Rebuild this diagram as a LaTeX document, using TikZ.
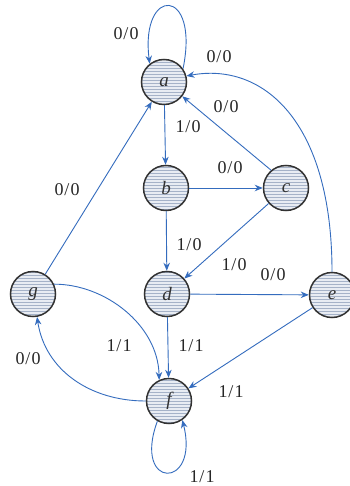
\documentclass[tikz,border=0pt]{standalone}
\usepackage{fontspec}
\setmainfont{Liberation Serif}
\usetikzlibrary{arrows.meta,patterns}
\definecolor{edgeblue}{RGB}{52,108,190}
\definecolor{nodefill}{RGB}{232,236,243}
\definecolor{hatch}{RGB}{165,178,200}
\definecolor{ringgray}{RGB}{50,50,50}
\newcommand{\tr}[2]{#1\kern1pt/\kern1pt#2}
\begin{document}
\begin{tikzpicture}[x=1pt,y=-1pt,
  state/.style={circle, draw=ringgray, line width=1.5pt, minimum size=45pt, inner sep=0pt,
    preaction={fill=nodefill}, pattern=horizontal lines, pattern color=hatch,
    font=\fontsize{19}{19}\selectfont\itshape, text=ringgray},
  edge/.style={draw=edgeblue, line width=0.9pt, -{Stealth[length=8pt,width=6.5pt]}},
  lbl/.style={font=\fontsize{18}{18}\selectfont, inner sep=0pt, text=black!85}]
\useasboundingbox (0,0) rectangle (349,486);
\fill[white] (0,0) rectangle (349,486);
% states
\node[state] (a) at (164,82) {a};
\node[state] (b) at (166,188) {b};
\node[state] (c) at (286,188) {c};
\node[state] (d) at (167,294) {d};
\node[state] (e) at (332,295) {e};
\node[state] (g) at (33,294) {g};
\node[state] (f) at (169,401) {f};
% transitions
\draw[edge] (a.35) .. controls (200,-14) and (140,-14) .. (a.128);
\draw[edge] (e.north) .. controls (332,120) and (262,62) .. (a.15);
\draw[edge] (c.130) -- (a.-38);
\draw[edge] (a) -- (b);
\draw[edge] (b) -- (c);
\draw[edge] (b) -- (d);
\draw[edge] (c) -- (d);
\draw[edge] (d) -- (e);
\draw[edge] (d) -- (f);
\draw[edge] (e) -- (f);
\draw[edge] (g) -- (a);
\draw[edge] (g.25) .. controls (105,284) and (158,325) .. (f.115);
\draw[edge] (f.180) .. controls (90,401) and (45,370) .. (g.-80);
\draw[edge] (f.240) .. controls (132,490) and (200,490) .. (f.-55);
% labels
\node[lbl] (laa) at (126,34) {\tr{0}{0}};
\node[lbl] (lea) at (219,57) {\tr{0}{0}};
\node[lbl] (lca) at (226,107) {\tr{0}{0}};
\node[lbl] (lab) at (188,127) {\tr{1}{0}};
\node[lbl] (lbc) at (230,168) {\tr{0}{0}};
\node[lbl] (lbd) at (189,245) {\tr{1}{0}};
\node[lbl] (lcd) at (234,265) {\tr{1}{0}};
\node[lbl] (lde) at (273,275) {\tr{0}{0}};
\node[lbl] (lga) at (67,190) {\tr{0}{0}};
\node[lbl] (lgf) at (119,346) {\tr{1}{1}};
\node[lbl] (ldf) at (191,346) {\tr{1}{1}};
\node[lbl] (lfg) at (28,359) {\tr{0}{0}};
\node[lbl] (lef) at (231,392) {\tr{1}{1}};
\node[lbl] (lff) at (202,477) {\tr{1}{1}};
\end{tikzpicture}
\end{document}
